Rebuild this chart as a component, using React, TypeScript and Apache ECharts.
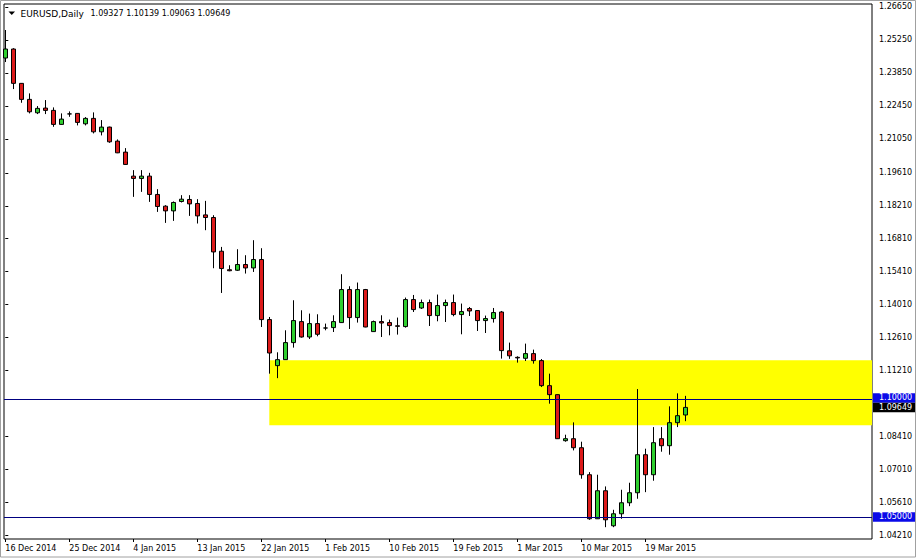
import React, { useEffect, useRef } from "react";
import * as echarts from "echarts";

// ---- data ----
const dates = [
  "16 Dec 2014", "17 Dec 2014", "18 Dec 2014", "19 Dec 2014", "21 Dec 2014", "22 Dec 2014", "23 Dec 2014", "24 Dec 2014",
  "25 Dec 2014", "26 Dec 2014", "28 Dec 2014", "29 Dec 2014", "30 Dec 2014", "31 Dec 2014", "1 Jan 2015", "2 Jan 2015",
  "4 Jan 2015", "5 Jan 2015", "6 Jan 2015", "7 Jan 2015", "8 Jan 2015", "9 Jan 2015", "11 Jan 2015", "12 Jan 2015",
  "13 Jan 2015", "14 Jan 2015", "15 Jan 2015", "16 Jan 2015", "18 Jan 2015", "19 Jan 2015", "20 Jan 2015", "21 Jan 2015",
  "22 Jan 2015", "23 Jan 2015", "25 Jan 2015", "26 Jan 2015", "27 Jan 2015", "28 Jan 2015", "29 Jan 2015", "30 Jan 2015",
  "1 Feb 2015", "2 Feb 2015", "3 Feb 2015", "4 Feb 2015", "5 Feb 2015", "6 Feb 2015", "8 Feb 2015", "9 Feb 2015",
  "10 Feb 2015", "11 Feb 2015", "12 Feb 2015", "13 Feb 2015", "15 Feb 2015", "16 Feb 2015", "17 Feb 2015", "18 Feb 2015",
  "19 Feb 2015", "20 Feb 2015", "22 Feb 2015", "23 Feb 2015", "24 Feb 2015", "25 Feb 2015", "26 Feb 2015", "27 Feb 2015",
  "1 Mar 2015", "2 Mar 2015", "3 Mar 2015", "4 Mar 2015", "5 Mar 2015", "6 Mar 2015", "8 Mar 2015", "9 Mar 2015",
  "10 Mar 2015", "11 Mar 2015", "12 Mar 2015", "13 Mar 2015", "15 Mar 2015", "16 Mar 2015", "17 Mar 2015", "18 Mar 2015",
  "19 Mar 2015", "20 Mar 2015", "22 Mar 2015", "23 Mar 2015", "24 Mar 2015", "25 Mar 2015",
];

const opens = [
  1.24483, 1.24865, 1.23407, 1.22727, 1.22158, 1.22358, 1.2226, 1.21665, 1.2211, 1.22132,
  1.2169, 1.2192, 1.2135, 1.2155, 1.20955, 1.20488, 1.19468, 1.1937, 1.19468, 1.1869,
  1.18193, 1.17993, 1.18392, 1.18477, 1.18307, 1.17823, 1.17712, 1.1628, 1.15494, 1.15473,
  1.15715, 1.1557, 1.15927, 1.13377, 1.11422, 1.11677, 1.124, 1.13292, 1.12638, 1.13207,
  1.1302, 1.13037, 1.1325, 1.14652, 1.13462, 1.14652, 1.12867, 1.13292, 1.1325, 1.13114,
  1.1308, 1.14227, 1.1387, 1.141, 1.13547, 1.13972, 1.141, 1.1359, 1.13845, 1.1376,
  1.13335, 1.1342, 1.137, 1.12051, 1.11775, 1.11733, 1.11932, 1.11635, 1.10572, 1.1019,
  1.08235, 1.0832, 1.07937, 1.0679, 1.0492, 1.0611, 1.04622, 1.05132, 1.056, 1.06025,
  1.0764, 1.0679, 1.0832, 1.08022, 1.09, 1.09327,
];
const highs = [
  1.25673, 1.249, 1.2342, 1.22982, 1.22443, 1.22698, 1.22387, 1.22132, 1.22217, 1.22145,
  1.21975, 1.22175, 1.21848, 1.2157, 1.21027, 1.20658, 1.19723, 1.19723, 1.19608, 1.18915,
  1.18235, 1.18392, 1.1866, 1.1866, 1.1849, 1.18418, 1.1781, 1.16463, 1.15685, 1.16365,
  1.1611, 1.16748, 1.16408, 1.13488, 1.11988, 1.12923, 1.14198, 1.13773, 1.13632, 1.13603,
  1.13207, 1.1356, 1.15303, 1.14793, 1.1495, 1.14678, 1.13335, 1.1356, 1.13377, 1.13462,
  1.14312, 1.14423, 1.14227, 1.14227, 1.1444, 1.14227, 1.1444, 1.14057, 1.13913, 1.13773,
  1.13547, 1.1387, 1.13743, 1.124, 1.11818, 1.12357, 1.12102, 1.11703, 1.11082, 1.102,
  1.0849, 1.09013, 1.08192, 1.069, 1.0679, 1.06293, 1.05302, 1.06152, 1.0645, 1.10428,
  1.07895, 1.08813, 1.08813, 1.09693, 1.10245, 1.10139,
];
const lows = [
  1.24313, 1.23165, 1.22583, 1.22132, 1.22103, 1.22103, 1.21563, 1.21648, 1.21988, 1.21622,
  1.21622, 1.21282, 1.21197, 1.20883, 1.20445, 1.19948, 1.18588, 1.188, 1.18375, 1.1795,
  1.17483, 1.17568, 1.1835, 1.1778, 1.17457, 1.17173, 1.15558, 1.14508, 1.1543, 1.15443,
  1.15332, 1.154, 1.13063, 1.11082, 1.10891, 1.1167, 1.12187, 1.12612, 1.12553, 1.12668,
  1.12923, 1.1285, 1.1324, 1.12978, 1.1325, 1.1305, 1.1286, 1.12638, 1.1271, 1.1274,
  1.13037, 1.137, 1.13828, 1.13105, 1.13305, 1.13275, 1.13518, 1.12753, 1.1353, 1.12893,
  1.12808, 1.1325, 1.1172, 1.11711, 1.1155, 1.11618, 1.11507, 1.10513, 1.09807, 1.0831,
  1.08192, 1.07823, 1.0662, 1.04877, 1.0491, 1.04563, 1.04563, 1.0492, 1.05455, 1.0577,
  1.0605, 1.06535, 1.07767, 1.0764, 1.08813, 1.09063,
];
const closes = [
  1.24865, 1.23407, 1.22727, 1.222, 1.22345, 1.2226, 1.21665, 1.2189, 1.2211, 1.2175,
  1.2192, 1.2135, 1.2155, 1.20925, 1.20458, 1.19965, 1.1937, 1.19468, 1.1869, 1.1818,
  1.17993, 1.1835, 1.1849, 1.1829, 1.1778, 1.17712, 1.1625, 1.15545, 1.15451, 1.15715,
  1.1557, 1.15927, 1.13377, 1.11958, 1.11677, 1.124, 1.13335, 1.12638, 1.13207, 1.12753,
  1.1302, 1.13292, 1.14652, 1.13462, 1.14652, 1.13063, 1.13292, 1.13233, 1.13122, 1.13092,
  1.14227, 1.13802, 1.141, 1.13547, 1.13972, 1.141, 1.1359, 1.13717, 1.13743, 1.13335,
  1.1342, 1.13675, 1.1206, 1.11839, 1.1175, 1.11932, 1.11635, 1.10572, 1.1019, 1.0832,
  1.0832, 1.07937, 1.0679, 1.0492, 1.0611, 1.04877, 1.05132, 1.056, 1.06025, 1.0764,
  1.0679, 1.0815, 1.08022, 1.09, 1.09297, 1.09649,
];

const xTickIndex = [0, 8, 16, 24, 32, 40, 48, 56, 64, 72, 80];
const yTickValues = [
  1.2665, 1.2525, 1.2385, 1.2245, 1.2105, 1.1961, 1.1821, 1.1681, 1.1541,
  1.1401, 1.1261, 1.1121, 1.0841, 1.0701, 1.0561, 1.0421,
];

const symbolName = "EURUSD,Daily";
const levelLines = [1.1, 1.05];
const zoneTop = 1.1165;
const zoneBottom = 1.0889;
const zoneStartIndex = 33;

// ---- layout / style ----
const X_MIN = -0.1625;
const X_MAX = 108.3375;
const Y_MIN = 1.04061;
const Y_MAX = 1.26777;
const FONT = "'DejaVu Sans', sans-serif";
const BULL = "#2fcf2f";
const BEAR = "#dc1a1a";
const LEVEL_LINE = "#000080";
const LEVEL_BOX = "#0a0ae8";

export default function App() {
  const ref = useRef<HTMLDivElement>(null);

  useEffect(() => {
    const chart = echarts.init(ref.current!, null, { renderer: "svg" });

    const candleData = opens.map((o, i) => [i, o, closes[i], lows[i], highs[i]]);
    const last = opens.length - 1;

    const option: any = {
      animation: false,
      backgroundColor: "#ffffff",
      grid: {
        left: 4,
        top: 4,
        width: 868,
        height: 535,
        show: true,
        borderColor: "#000",
        borderWidth: 1,
        backgroundColor: "#fff",
      },
      xAxis: {
        type: "value",
        min: X_MIN,
        max: X_MAX,
        axisLine: { show: false },
        splitLine: { show: false },
        axisTick: {
          show: true,
          customValues: xTickIndex,
          length: 3,
          lineStyle: { color: "#000" },
        },
        axisLabel: {
          customValues: xTickIndex,
          formatter: (v: number) => dates[Math.round(v)] ?? "",
          align: "left",
          color: "#000",
          fontFamily: FONT,
          fontSize: 8,
          margin: 5,
        },
      },
      yAxis: {
        type: "value",
        position: "right",
        min: Y_MIN,
        max: Y_MAX,
        scale: true,
        axisLine: { show: false },
        splitLine: { show: false },
        axisTick: {
          show: true,
          customValues: yTickValues,
          length: 3,
          lineStyle: { color: "#000" },
        },
        axisLabel: {
          customValues: yTickValues,
          formatter: (v: number) => v.toFixed(5),
          color: "#000",
          fontFamily: FONT,
          fontSize: 8,
          margin: 7,
        },
      },
      series: [
        {
          type: "candlestick",
          data: candleData,
          encode: { x: 0, y: [1, 2, 3, 4] },
          barWidth: 4,
          silent: true,
          itemStyle: {
            color: BULL,
            color0: BEAR,
            borderColor: "#000",
            borderColor0: "#000",
            borderColorDoji: "#000",
            borderWidth: 1,
          },
          markArea: {
            silent: true,
            label: { show: false },
            itemStyle: { color: "#ffff00", opacity: 1 },
            data: [[{ xAxis: zoneStartIndex, yAxis: zoneTop }, { xAxis: X_MAX, yAxis: zoneBottom }]],
          },
          markLine: {
            silent: true,
            symbol: ["none", "none"],
            label: { show: false },
            lineStyle: { color: LEVEL_LINE, type: "solid", width: 1 },
            data: levelLines.map((v) => ({ yAxis: v })),
          },
        },
      ],
    };

    chart.setOption(option);

    // price boxes on the right axis, placed through the axis scale
    const boxH = 9.5;
    const bidY = chart.convertToPixel({ yAxisIndex: 0 }, closes[last]) as number;
    const boxes: any[] = [];
    const addBox = (cy: number, txt: string, fill: string, id: string) => {
      boxes.push({
        type: "group",
        id,
        children: [
          { type: "rect", shape: { x: 873, y: cy - boxH / 2, width: 42, height: boxH }, style: { fill } },
          {
            type: "text",
            x: 879,
            y: cy,
            style: { text: txt, fill: "#fff", font: `8px ${FONT}`, verticalAlign: "middle", align: "left" },
          },
        ],
      });
    };
    levelLines.forEach((v, k) => {
      let cy = chart.convertToPixel({ yAxisIndex: 0 }, v) as number;
      if (Math.abs(cy - bidY) < boxH) cy = cy < bidY ? bidY - boxH : bidY + boxH;
      addBox(cy, v.toFixed(5), LEVEL_BOX, "lvl" + k);
    });
    addBox(bidY, closes[last].toFixed(5), "#000", "bid");

    const graphics: any[] = [
      {
        type: "rect",
        id: "win",
        shape: { x: 0.5, y: 0.5, width: 915, height: 556.5 },
        style: { fill: "none", stroke: "#a0a0a0", lineWidth: 1 },
        z: 100,
      },
      {
        type: "polygon",
        id: "tri",
        shape: { points: [[8.5, 11.5], [15, 11.5], [11.75, 15]] },
        style: { fill: "#000" },
        z: 100,
      },
      {
        type: "text",
        id: "sym",
        x: 20.5,
        y: 13.5,
        style: { text: symbolName, fill: "#000", font: `9px ${FONT}`, verticalAlign: "middle" },
        z: 100,
      },
      {
        type: "text",
        id: "ohlc",
        x: 90.5,
        y: 13.5,
        style: {
          text: [opens[last], highs[last], lows[last], closes[last]].map((v) => v.toFixed(5)).join(" "),
          fill: "#000",
          font: `8px ${FONT}`,
          verticalAlign: "middle",
        },
        z: 100,
      },
      ...boxes.map((b) => ({ ...b, z: 100 })),
    ];
    chart.setOption({ graphic: graphics });

    return () => chart.dispose();
  }, []);

  return (
    <div
      ref={ref}
      style={{ position: "fixed", left: 0, top: 0, width: 917, height: 559, background: "#fff" }}
    />
  );
}
